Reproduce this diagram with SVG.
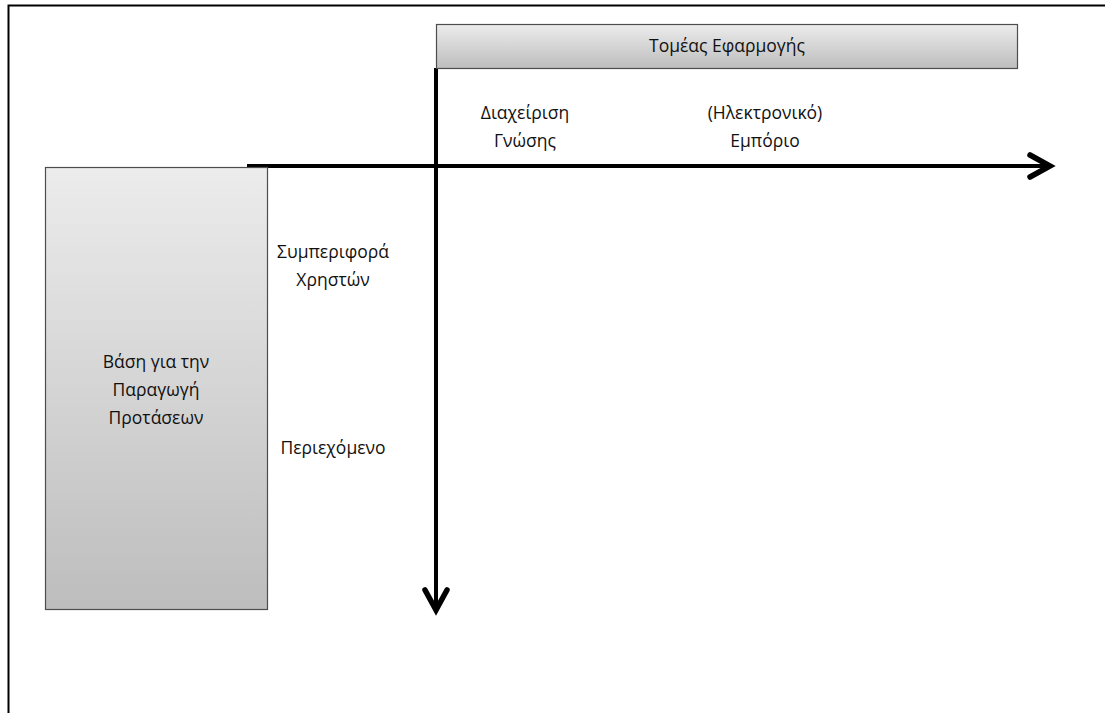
<svg xmlns="http://www.w3.org/2000/svg" width="1105" height="713" viewBox="0 0 1105 713">
  <style>
    .lbl { font-family: "Open Sans", "Liberation Sans", sans-serif; font-size: 17.5px; fill: #111; text-anchor: middle; }
    .box { stroke: #4d4d4d; stroke-width: 1.2; }
    .axis { stroke: #000; stroke-width: 4; fill: none; }
    .head { stroke: #000; stroke-width: 5.5; fill: none; stroke-linecap: round; stroke-linejoin: miter; }
  </style>
  <defs>
    <linearGradient id="grey" x1="0" y1="0" x2="0" y2="1">
      <stop offset="0" stop-color="#ececec"/>
      <stop offset="1" stop-color="#bdbdbd"/>
    </linearGradient>
  </defs>
  <rect width="1105" height="713" fill="#fff"/>
  <!-- outer frame -->
  <path d="M8.5,713 V5.5 H1105" fill="none" stroke="#000" stroke-width="2"/>

  <g id="connectors">
    <line class="axis" x1="247" y1="166" x2="1048" y2="166"/>
    <polyline class="head" points="1030,155 1050,166 1030,177"/>
    <line class="axis" x1="436" y1="68" x2="436" y2="608"/>
    <polyline class="head" points="425,590 436,610 447,590"/>
  </g>

  <g id="application-domain">
    <rect class="box" x="436.5" y="24.5" width="581" height="44" fill="url(#grey)"/>
    <text class="lbl" x="727" y="52">Τομέας Εφαρμογής</text>
  </g>

  <g id="recommendation-basis">
    <rect class="box" x="45.5" y="167.5" width="222" height="442" fill="url(#grey)"/>
    <text class="lbl" x="156" y="368">Βάση για την</text>
    <text class="lbl" x="156" y="396">Παραγωγή</text>
    <text class="lbl" x="156" y="424">Προτάσεων</text>
  </g>

  <g id="knowledge-management">
    <text class="lbl" x="525" y="119">Διαχείριση</text>
    <text class="lbl" x="525" y="147">Γνώσης</text>
  </g>

  <g id="e-commerce">
    <text class="lbl" x="765" y="119">(Ηλεκτρονικό)</text>
    <text class="lbl" x="765" y="147">Εμπόριο</text>
  </g>

  <g id="user-behaviour">
    <text class="lbl" x="333" y="258">Συμπεριφορά</text>
    <text class="lbl" x="333" y="286">Χρηστών</text>
  </g>

  <g id="content">
    <text class="lbl" x="333" y="454">Περιεχόμενο</text>
  </g>
</svg>
